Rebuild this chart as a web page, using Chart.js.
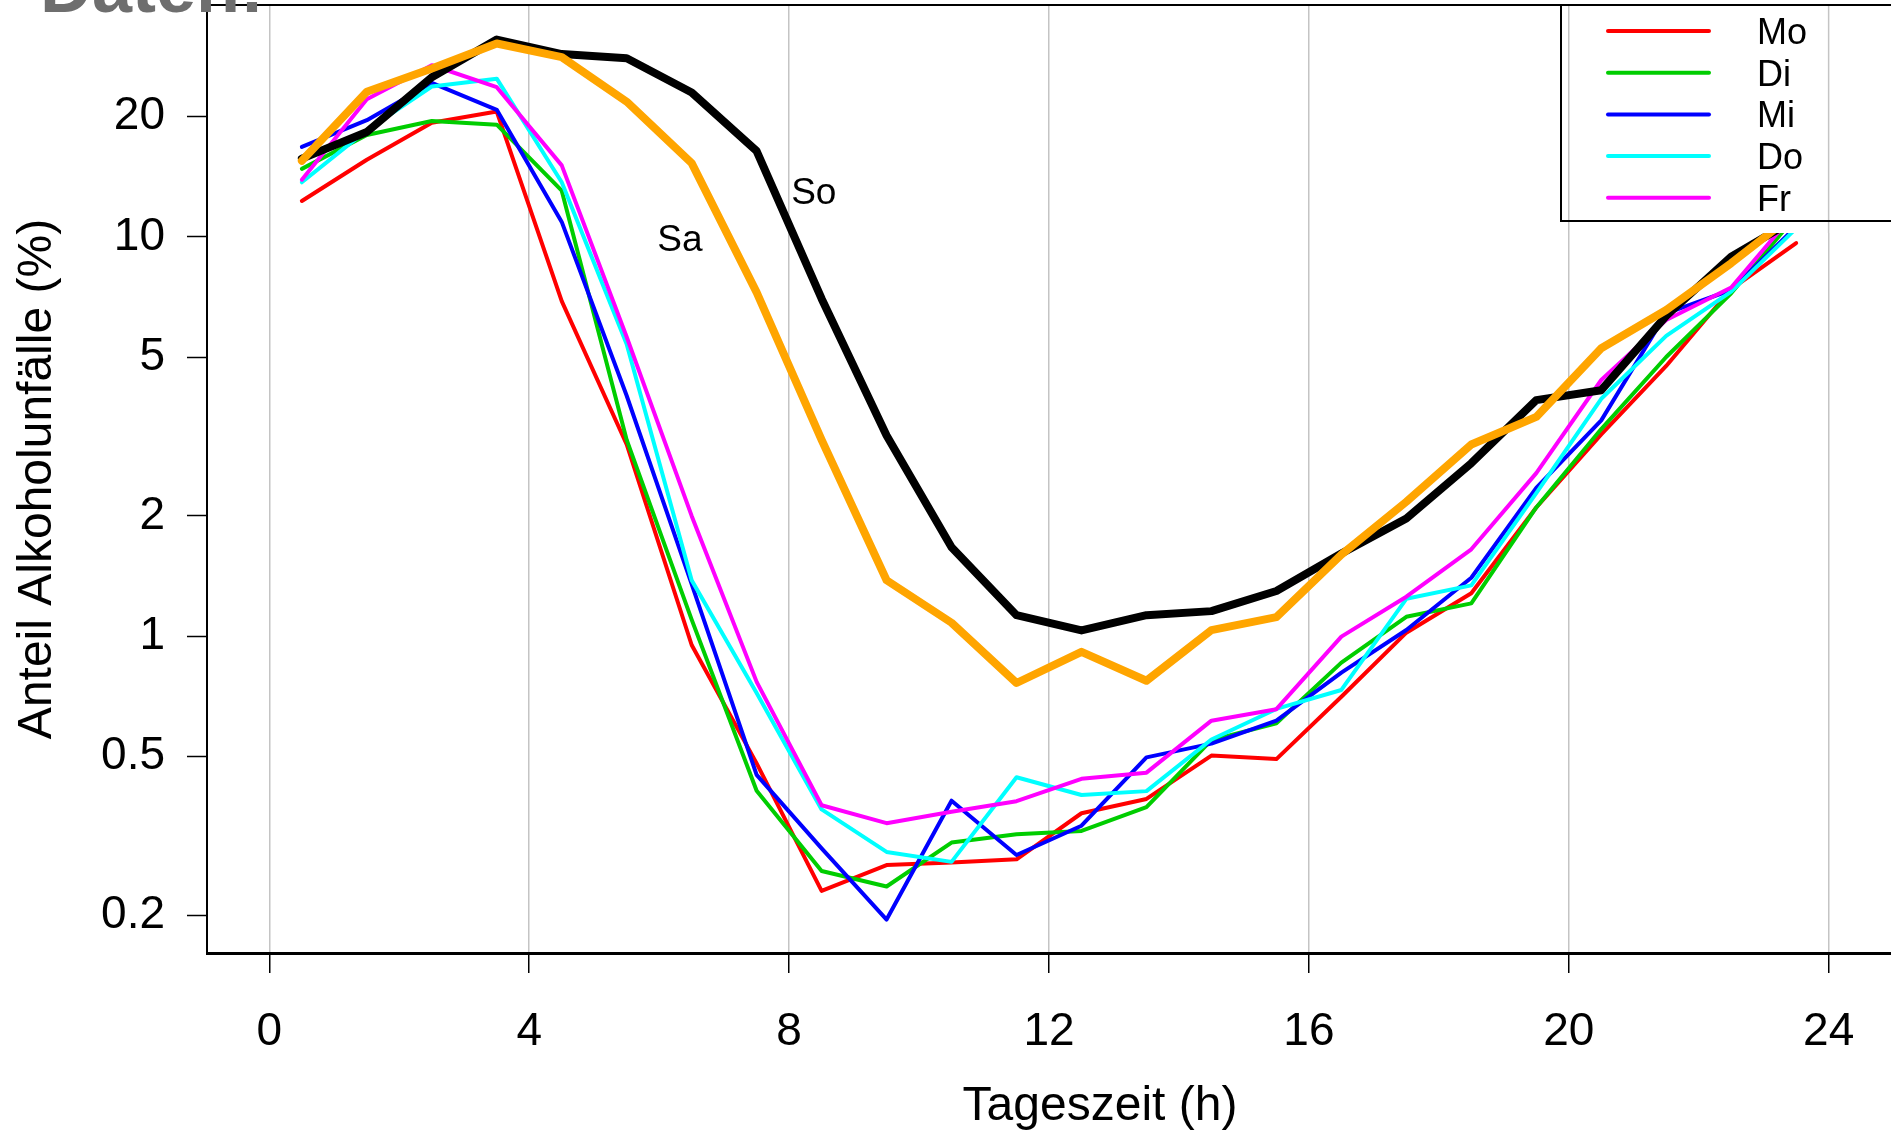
<!DOCTYPE html>
<html>
<head>
<meta charset="utf-8">
<title>Alkoholunfälle nach Tageszeit</title>
<script src="https://cdn.jsdelivr.net/npm/chart.js@4.4.1/dist/chart.umd.min.js"></script>
<style>
    html, body { margin: 0; padding: 0; background: #fff; }
    #wrap { width: 1891px; height: 1130px; overflow: hidden; }
</style>
</head>
<body>
<div id="wrap"><canvas id="myChart" width="1891" height="1130"></canvas></div>
<script>
// hour midpoints and share of alcohol accidents (%) per weekday
const hours = [0.5, 1.5, 2.5, 3.5, 4.5, 5.5, 6.5, 7.5, 8.5, 9.5, 10.5, 11.5,
               12.5, 13.5, 14.5, 15.5, 16.5, 17.5, 18.5, 19.5, 20.5, 21.5, 22.5, 23.5];

const mo = [12.3, 15.6, 19.3, 20.6, 6.9, 3.02, 0.95, 0.48, 0.23, 0.267, 0.271, 0.276,
            0.36, 0.391, 0.502, 0.492, 0.705, 1.02, 1.28, 2.1, 3.2, 4.75, 7.4, 9.65];
const di = [14.8, 18.0, 19.5, 19.1, 13.05, 3.1, 1.1, 0.41, 0.258, 0.236, 0.304, 0.319,
            0.325, 0.373, 0.549, 0.605, 0.858, 1.118, 1.208, 2.1, 3.3, 5.0, 7.22, 11.3];
const mi = [16.8, 19.6, 24.3, 20.8, 10.9, 4.0, 1.35, 0.449, 0.294, 0.195, 0.387, 0.283,
            0.335, 0.497, 0.538, 0.614, 0.81, 1.036, 1.4, 2.35, 3.47, 6.43, 7.36, 10.6];
const don = [13.7, 18.5, 23.8, 24.9, 13.7, 5.38, 1.38, 0.72, 0.368, 0.288, 0.272, 0.443,
             0.4, 0.409, 0.551, 0.657, 0.733, 1.24, 1.34, 2.28, 3.93, 5.65, 7.29, 10.5];
const fr = [13.9, 22.1, 26.9, 23.7, 15.1, 5.61, 2.0, 0.768, 0.377, 0.34, 0.363, 0.386,
            0.439, 0.455, 0.614, 0.656, 0.997, 1.255, 1.65, 2.56, 4.38, 6.19, 7.47, 11.6];
const sa = [15.5, 23.1, 26.4, 30.5, 28.2, 21.8, 15.3, 7.26, 3.1, 1.38, 1.08, 0.763,
            0.913, 0.773, 1.035, 1.116, 1.6, 2.17, 3.02, 3.54, 5.26, 6.56, 8.59, 11.5];
const so = [15.7, 18.3, 25.1, 31.2, 28.7, 28.0, 23.0, 16.4, 7.0, 3.18, 1.67, 1.128,
            1.033, 1.128, 1.155, 1.297, 1.61, 1.97, 2.71, 3.9, 4.13, 6.34, 8.92, 11.1];

const dayNames = ['Mo', 'Di', 'Mi', 'Do', 'Fr', 'Sa', 'So'];
const dayValues = [mo, di, mi, don, fr, sa, so];
const dayColors = ['#ff0000', '#00cd00', '#0000ff', '#00ffff', '#ff00ff', '#ffa500', '#000000'];
// lower order = drawn on top (Sa over So over the weekdays)
const dayOrder = [6, 5, 4, 3, 2, 0, 1];
const legendDays = ['Mo', 'Di', 'Mi', 'Do', 'Fr'];

const xTicks = [0, 4, 8, 12, 16, 20, 24];
const yTicks = [0.2, 0.5, 1, 2, 5, 10, 20];

// text labels for the weekend curves, in data units
const curveLabels = [
    { text: 'Sa', x: 6.32, y: 9.8 },
    { text: 'So', x: 8.38, y: 12.8 }
];

const FONT = "'Liberation Sans', Arial, Helvetica, sans-serif";
Chart.defaults.font.family = FONT;
Chart.defaults.color = '#000';

const datasets = dayNames.map((name, i) => {
    const weekend = i >= 5;
    return {
        label: name,
        data: hours.map((h, k) => ({ x: h, y: dayValues[i][k] })),
        borderColor: dayColors[i],
        borderWidth: weekend ? 8 : 4,
        pointRadius: 0,
        tension: 0,
        fill: false,
        borderJoinStyle: 'round',
        borderCapStyle: 'round',
        order: dayOrder[i]
    };
});

const extras = {
    id: 'extras',
    afterDraw(chart) {
        const { ctx, chartArea, scales } = chart;
        const W = chart.width;
        const legLeft = 1561, legBottom = 221, coverBottom = 233;

        ctx.save();
        // white area behind the legend
        ctx.fillStyle = '#fff';
        ctx.fillRect(legLeft, chartArea.top + 1, W - legLeft, coverBottom - chartArea.top - 1);
        ctx.strokeStyle = '#c4c4c4';
        ctx.lineWidth = 1.5;
        xTicks.forEach(v => {
            const px = scales.x.getPixelForValue(v);
            if (px > legLeft) {
                ctx.beginPath();
                ctx.moveTo(px, chartArea.top);
                ctx.lineTo(px, coverBottom);
                ctx.stroke();
            }
        });

        // top frame line
        ctx.strokeStyle = '#000';
        ctx.lineWidth = 2;
        ctx.beginPath();
        ctx.moveTo(chartArea.left, chartArea.top);
        ctx.lineTo(chartArea.right, chartArea.top);
        ctx.stroke();

        // legend box
        ctx.strokeRect(legLeft, chartArea.top, W - legLeft + 10, legBottom - chartArea.top);
        ctx.font = '36px ' + FONT;
        ctx.textAlign = 'left';
        ctx.textBaseline = 'alphabetic';
        legendDays.forEach((name, i) => {
            const y = 31 + i * 41.7;
            ctx.strokeStyle = dayColors[dayNames.indexOf(name)];
            ctx.lineWidth = 4;
            ctx.lineCap = 'round';
            ctx.beginPath();
            ctx.moveTo(1608, y);
            ctx.lineTo(1709, y);
            ctx.stroke();
            ctx.fillStyle = '#000';
            ctx.fillText(name, 1757, y + 13);
        });

        // Sa / So labels
        ctx.font = '37px ' + FONT;
        ctx.textAlign = 'center';
        ctx.textBaseline = 'middle';
        curveLabels.forEach(l => {
            ctx.fillText(l.text, scales.x.getPixelForValue(l.x), scales.y.getPixelForValue(l.y));
        });

        // x axis title, centred like the original plot region
        ctx.font = '48px ' + FONT;
        ctx.textBaseline = 'alphabetic';
        ctx.fillText('Tageszeit (h)', 1100, 1120);

        // slide heading, cut off at the top
        ctx.font = 'bold 72px ' + FONT;
        ctx.fillStyle = '#6e6e6e';
        ctx.textAlign = 'left';
        ctx.fillText('Daten:', 40, 12);
        ctx.restore();
    }
};

const ctx = document.getElementById('myChart').getContext('2d');
new Chart(ctx, {
    type: 'line',
    data: { datasets: datasets },
    plugins: [extras],
    options: {
        responsive: false,
        animation: false,
        devicePixelRatio: 1,
        layout: { padding: { top: 5, right: 0, bottom: 0, left: 0 } },
        plugins: { legend: { display: false }, tooltip: { enabled: false } },
        scales: {
            x: {
                type: 'linear',
                min: -0.96,
                max: 24.96,
                afterBuildTicks: s => { s.ticks = xTicks.map(v => ({ value: v })); },
                afterFit: s => { s.height = 177; s.paddingLeft = 0; s.paddingRight = 0; },
                grid: { color: '#c4c4c4', lineWidth: 1.5, drawTicks: true, tickLength: 20, tickColor: '#000', tickWidth: 1.5 },
                border: { display: true, color: '#000', width: 3 },
                ticks: { font: { size: 46 }, color: '#000', padding: 32, maxRotation: 0, autoSkip: false },
                title: { display: false }
            },
            y: {
                type: 'logarithmic',
                min: 0.1608,
                max: 38.08,
                afterBuildTicks: s => { s.ticks = yTicks.map(v => ({ value: v })); },
                afterFit: s => { s.width = 207; s.paddingTop = 0; s.paddingBottom = 0; },
                grid: { drawOnChartArea: false, drawTicks: true, tickLength: 20, tickColor: '#000', tickWidth: 1.5 },
                border: { display: true, color: '#000', width: 2 },
                ticks: { font: { size: 46 }, color: '#000', padding: 22, autoSkip: false, callback: v => String(v) },
                title: { display: true, text: 'Anteil Alkoholunfälle (%)', color: '#000', font: { size: 48, lineHeight: 1 }, padding: { top: 14, bottom: 0 } }
            }
        }
    }
});
</script>
</body>
</html>
